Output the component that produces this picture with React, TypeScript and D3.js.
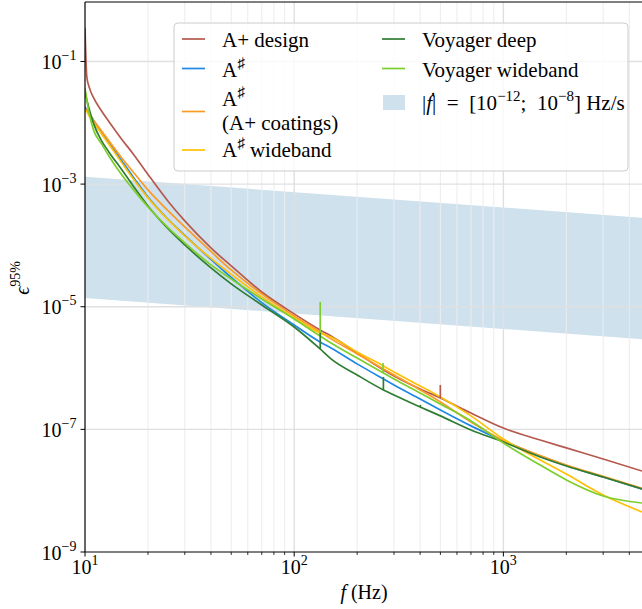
import React from "react";
import * as d3 from "d3";

// Frequency grid (Hz) shared by all sensitivity curves
const freqs = [10, 10.2, 10.5, 11, 12, 13, 15, 17, 20, 25, 30, 40, 50, 70, 100, 133, 150, 200, 267, 300, 400, 500, 700, 1000, 1500, 2000, 3000, 4600];

// 95% upper-limit ellipticity for each detector configuration
const aPlusDesign = [3.53e-1, 5.61e-2, 3.71e-2, 2.55e-2, 1.56e-2, 1.05e-2, 5.36e-3, 3.11e-3, 1.44e-3, 5.22e-4, 2.51e-4, 9.1e-5, 4.63e-5, 1.74e-5, 7.64e-6, 4.19e-6, 3.34e-6, 1.76e-6, 9.31e-7, 7.43e-7, 4.56e-7, 3.25e-7, 1.85e-7, 1.05e-7, 6.71e-8, 4.98e-8, 3.29e-8, 2.09e-8];
const aSharp = [1.82e-2, 1.62e-2, 1.4e-2, 1.09e-2, 7.11e-3, 4.79e-3, 2.39e-3, 1.31e-3, 6.18e-4, 2.65e-4, 1.46e-4, 5.92e-5, 3.01e-5, 1.17e-5, 5.05e-6, 2.67e-6, 2.13e-6, 1.17e-6, 6.64e-7, 5.3e-7, 3.13e-7, 2.07e-7, 1.14e-7, 6.47e-8, 3.68e-8, 2.58e-8, 1.67e-8, 1.07e-8];
const aSharpCoatings = [1.75e-2, 1.59e-2, 1.37e-2, 1.09e-2, 7.38e-3, 5.07e-3, 2.67e-3, 1.58e-3, 8.04e-4, 3.66e-4, 2.0e-4, 7.98e-5, 3.98e-5, 1.62e-5, 7.08e-6, 3.88e-6, 2.99e-6, 1.7e-6, 9.66e-7, 7.71e-7, 4.4e-7, 2.8e-7, 1.32e-7, 6.59e-8, 3.75e-8, 2.62e-8, 1.71e-8, 1.09e-8];
const aSharpWideband = [1.62e-2, 1.51e-2, 1.27e-2, 9.95e-3, 6.59e-3, 4.45e-3, 2.22e-3, 1.22e-3, 5.96e-4, 2.61e-4, 1.43e-4, 6.14e-5, 3.37e-5, 1.45e-5, 6.56e-6, 3.74e-6, 3.21e-6, 1.83e-6, 1.08e-6, 8.63e-7, 5.11e-7, 3.38e-7, 1.66e-7, 6.97e-8, 3.17e-8, 1.87e-8, 8.51e-9, 4.5e-9];
const voyagerDeep = [3.19e-2, 2.37e-2, 1.62e-2, 9.6e-3, 5.07e-3, 3.35e-3, 1.71e-3, 9.35e-4, 4.41e-4, 1.86e-4, 1.02e-4, 4.3e-5, 2.36e-5, 1.07e-5, 4.68e-6, 2.05e-6, 1.41e-6, 7.71e-7, 4.4e-7, 3.64e-7, 2.32e-7, 1.66e-7, 9.77e-8, 6.22e-8, 3.55e-8, 2.53e-8, 1.67e-8, 1.07e-8];
const voyagerWideband = [3.71e-2, 2.37e-2, 1.37e-2, 7.52e-3, 4.53e-3, 2.88e-3, 1.41e-3, 8.2e-4, 4.25e-4, 1.93e-4, 1.1e-4, 4.81e-5, 2.84e-5, 1.34e-5, 6.32e-6, 3.34e-6, 2.57e-6, 1.46e-6, 8.32e-7, 6.64e-7, 3.93e-7, 2.59e-7, 1.37e-7, 6e-8, 2.62e-8, 1.5e-8, 8.2e-9, 6.3e-9];

// Narrow calibration / resonance lines: [series, frequency, peak value]
const spectralLines: [string, number, number][] = [
  ["voyagerWideband", 133.2, 1.2e-5],
  ["voyagerDeep", 133.2, 3.74e-6],
  ["voyagerWideband", 265.8, 1.21e-6],
  ["voyagerDeep", 267, 7.16e-7],
  ["voyagerDeep", 401, 2.5e-7],
  ["aPlusDesign", 499.6, 5.3e-7],
  ["aSharpCoatings", 751, 1.18e-7],
];

// Spin-down band for |fdot| between 1e-12 and 1e-8 Hz/s
const bandFreqs = [10, 4600];
const bandLow = [1.39e-5, 2.95e-6];
const bandHigh = [1.32e-3, 2.84e-4];

const xMajorTicks = [10, 100, 1000];
const xTickExponents = ["1", "2", "3"];
const yMajorTicks = [1e-9, 1e-7, 1e-5, 1e-3, 1e-1];
const yTickExponents = ["−9", "−7", "−5", "−3", "−1"];

const series = [
  { key: "aPlusDesign", values: aPlusDesign, color: "#b5594e" },
  { key: "aSharp", values: aSharp, color: "#1e88e5" },
  { key: "aSharpCoatings", values: aSharpCoatings, color: "#fb9a24" },
  { key: "aSharpWideband", values: aSharpWideband, color: "#ffc107" },
  { key: "voyagerDeep", values: voyagerDeep, color: "#2e7d32" },
  { key: "voyagerWideband", values: voyagerWideband, color: "#7cce2c" },
];

const W = 642;
const H = 609;
const M = { left: 85, right: 642, top: 2, bottom: 552 };
const FONT = "'Liberation Serif', 'Times New Roman', 'DejaVu Serif', serif";

export default function App() {
  const x = d3.scaleLog().domain([10, 4600]).range([M.left, M.right]);
  const y = d3.scaleLog().domain([1e-9, Math.pow(10, -0.03)]).range([M.bottom, M.top]);

  const line = d3
    .line<[number, number]>()
    .x((d) => x(d[0]))
    .y((d) => y(d[1]))
    .curve(d3.curveMonotoneX);

  const area = d3
    .area<number>()
    .x((_, i) => x(bandFreqs[i]))
    .y0((_, i) => y(bandLow[i]))
    .y1((_, i) => y(bandHigh[i]));

  const xMinor: number[] = [];
  [10, 100, 1000].forEach((dec) => {
    for (let k = 2; k <= 9; k++) {
      const v = dec * k;
      if (v <= 4600) xMinor.push(v);
    }
  });

  // log-log interpolation of a series at frequency f
  const valueAt = (vals: number[], f: number) => {
    const lf = Math.log10(f);
    for (let i = 0; i < freqs.length - 1; i++) {
      const a = Math.log10(freqs[i]);
      const b = Math.log10(freqs[i + 1]);
      if (lf >= a && lf <= b) {
        const t = (lf - a) / (b - a);
        return Math.pow(10, Math.log10(vals[i]) * (1 - t) + Math.log10(vals[i + 1]) * t);
      }
    }
    return vals[vals.length - 1];
  };

  const colorOf = (k: string) => series.find((s) => s.key === k)!.color;
  const valuesOf = (k: string) => series.find((s) => s.key === k)!.values;

  const legendX = 174;
  const legendY = 23;
  const col2 = 382;

  return (
    <svg
      width={W}
      height={H}
      style={{ position: "absolute", left: 0, top: 0, background: "#fff" }}
      fontFamily={FONT}
    >
      <defs>
        <clipPath id="plotArea">
          <rect x={M.left} y={M.top} width={M.right - M.left + 10} height={M.bottom - M.top} />
        </clipPath>
      </defs>

      {/* spin-down band */}
      <path d={area([0, 1]) || ""} fill="#d0e1ee" clipPath="url(#plotArea)" />

      {/* grid */}
      {xMinor.map((v) => (
        <line key={"gx" + v} x1={x(v)} x2={x(v)} y1={M.top} y2={M.bottom} stroke="#ececec" strokeWidth={1} />
      ))}
      {xMajorTicks.slice(1).map((v) => (
        <line key={"gX" + v} x1={x(v)} x2={x(v)} y1={M.top} y2={M.bottom} stroke="#e0e0e0" strokeWidth={1.4} />
      ))}
      {yMajorTicks.slice(1).map((v) => (
        <line key={"gY" + v} x1={M.left} x2={M.right} y1={y(v)} y2={y(v)} stroke="#e0e0e0" strokeWidth={1.4} />
      ))}

      {/* curves */}
      <g clipPath="url(#plotArea)" fill="none" strokeWidth={1.7}>
        {series.map((s) => (
          <path
            key={s.key}
            d={line(freqs.map((f, i) => [f, s.values[i]] as [number, number])) || ""}
            stroke={s.color}
          />
        ))}
        {spectralLines.map(([k, f, peak], i) => (
          <line
            key={"sl" + i}
            x1={x(f)}
            x2={x(f)}
            y1={y(valueAt(valuesOf(k), f))}
            y2={y(peak)}
            stroke={colorOf(k)}
            strokeWidth={1.7}
          />
        ))}
      </g>

      {/* spines */}
      <line x1={M.left} x2={M.right} y1={M.top} y2={M.top} stroke="#000" strokeWidth={1.2} />
      <line x1={M.left} x2={M.left} y1={M.top} y2={M.bottom} stroke="#000" strokeWidth={1.2} />
      <line x1={M.left} x2={M.right} y1={M.bottom} y2={M.bottom} stroke="#000" strokeWidth={1.2} />

      {/* x ticks */}
      {xMinor.map((v) => (
        <line key={"tx" + v} x1={x(v)} x2={x(v)} y1={M.bottom} y2={M.bottom + 3} stroke="#000" strokeWidth={0.8} />
      ))}
      {xMajorTicks.map((v, i) => (
        <g key={"tX" + v}>
          <line x1={x(v)} x2={x(v)} y1={M.bottom} y2={M.bottom + 4.5} stroke="#000" strokeWidth={1} />
          <text x={x(v)} y={573.5} textAnchor="middle" fontSize={20} fill="#000">
            10
            <tspan dy={-9} fontSize={14}>
              {xTickExponents[i]}
            </tspan>
          </text>
        </g>
      ))}

      {/* y ticks */}
      {yMajorTicks.map((v, i) => (
        <g key={"tY" + v}>
          <line x1={M.left - 4.5} x2={M.left} y1={y(v)} y2={y(v)} stroke="#000" strokeWidth={1} />
          <text x={76.5} y={y(v) + 7.5} textAnchor="end" fontSize={20} fill="#000">
            10
            <tspan dy={-9} fontSize={14}>
              {yTickExponents[i]}
            </tspan>
          </text>
        </g>
      ))}

      {/* axis labels */}
      <text x={364} y={599} textAnchor="middle" fontSize={20} fill="#000">
        <tspan fontStyle="italic">f</tspan> (Hz)
      </text>
      <text transform="translate(29,278) rotate(-90)" textAnchor="middle" fontSize={20} fill="#000">
        <tspan fontStyle="italic">ϵ</tspan>
        <tspan dy={-9} fontSize={14}>
          95%
        </tspan>
      </text>

      {/* legend */}
      <rect
        x={legendX}
        y={legendY}
        width={628 - legendX}
        height={171 - legendY}
        rx={4}
        fill="#fff"
        fillOpacity={0.8}
        stroke="#cccccc"
        strokeWidth={1}
      />
      <g fontSize={21} fill="#000">
        <line x1={182} x2={205} y1={39} y2={39} stroke={colorOf("aPlusDesign")} strokeWidth={1.7} />
        <text x={222} y={46.5}>A+ design</text>

        <line x1={182} x2={205} y1={68.5} y2={68.5} stroke={colorOf("aSharp")} strokeWidth={1.7} />
        <text x={222} y={77}>
          A<tspan dy={-9} fontSize={15}>♯</tspan>
        </text>

        <line x1={182} x2={205} y1={111.5} y2={111.5} stroke={colorOf("aSharpCoatings")} strokeWidth={1.7} />
        <text x={222} y={106}>
          A<tspan dy={-9} fontSize={15}>♯</tspan>
        </text>
        <text x={222} y={129.5}>(A+ coatings)</text>

        <line x1={182} x2={205} y1={150} y2={150} stroke={colorOf("aSharpWideband")} strokeWidth={1.7} />
        <text x={222} y={157}>
          A<tspan dy={-9} fontSize={15}>♯</tspan>
          <tspan dy={9}> wideband</tspan>
        </text>

        <line x1={col2} x2={col2 + 23} y1={39} y2={39} stroke={colorOf("voyagerDeep")} strokeWidth={1.7} />
        <text x={422} y={46.5}>Voyager deep</text>

        <line x1={col2} x2={col2 + 23} y1={68.5} y2={68.5} stroke={colorOf("voyagerWideband")} strokeWidth={1.7} />
        <text x={422} y={77}>Voyager wideband</text>

        <rect x={col2 + 1} y={95} width={22} height={15} fill="#d0e1ee" />
        <text x={422} y={110}>
          |<tspan fontStyle="italic">ḟ</tspan>|{"\u2002=\u2002"}[10
          <tspan dy={-9} fontSize={15}>−12</tspan>
          <tspan dy={9}>;{"\u2002"}10</tspan>
          <tspan dy={-9} fontSize={15}>−8</tspan>
          <tspan dy={9}>] Hz/s</tspan>
        </text>
      </g>
    </svg>
  );
}
